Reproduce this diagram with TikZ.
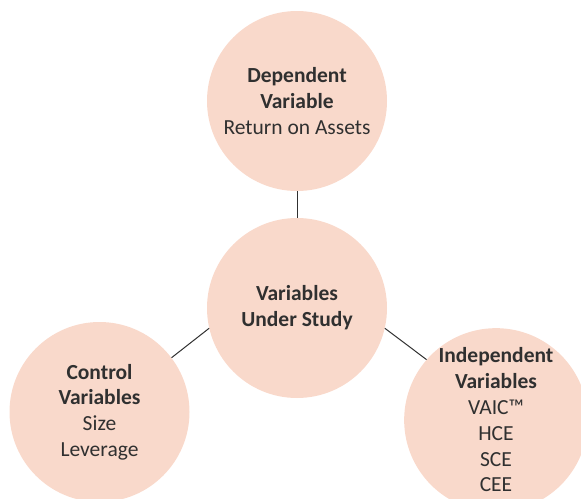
\documentclass[tikz,border=0pt]{standalone}
\usepackage{fontspec}
\setmainfont{Carlito}
\definecolor{peach}{HTML}{F9D9CB}
\definecolor{inkgrey}{HTML}{303030}
\tikzset{bubble/.style={circle, fill=peach, draw=none, minimum size=180pt, inner sep=0pt,
    align=center, text=inkgrey, font=\fontsize{21.5}{25.8}\selectfont},
  link/.style={draw=inkgrey, line width=1pt}}

\begin{document}
\begin{tikzpicture}[x=1pt,y=-1pt]
        \useasboundingbox (0,0) rectangle (581,498);
        \clip (0,0) rectangle (581,498);
        \node[bubble] (dep) at (297,101) {\textbf{Dependent}\\\textbf{Variable}\\Return on Assets};
        \node[bubble] (study) at (297,308) {\textbf{Variables}\\\textbf{Under Study}};
        \node[bubble] (ctrl) at (99.5,412) {\textbf{Control}\\\textbf{Variables}\\Size\\Leverage};
        \node[bubble] (indep) at (496,420) {\textbf{Independent}\\\textbf{Variables}\\VAIC™\\HCE\\SCE\\CEE};
        \draw[link] (dep) -- (study);
        \draw[link] (study.193) -- (ctrl.37);
        \draw[link] (study.-13) -- (indep.139);
    \end{tikzpicture}
\end{document}
